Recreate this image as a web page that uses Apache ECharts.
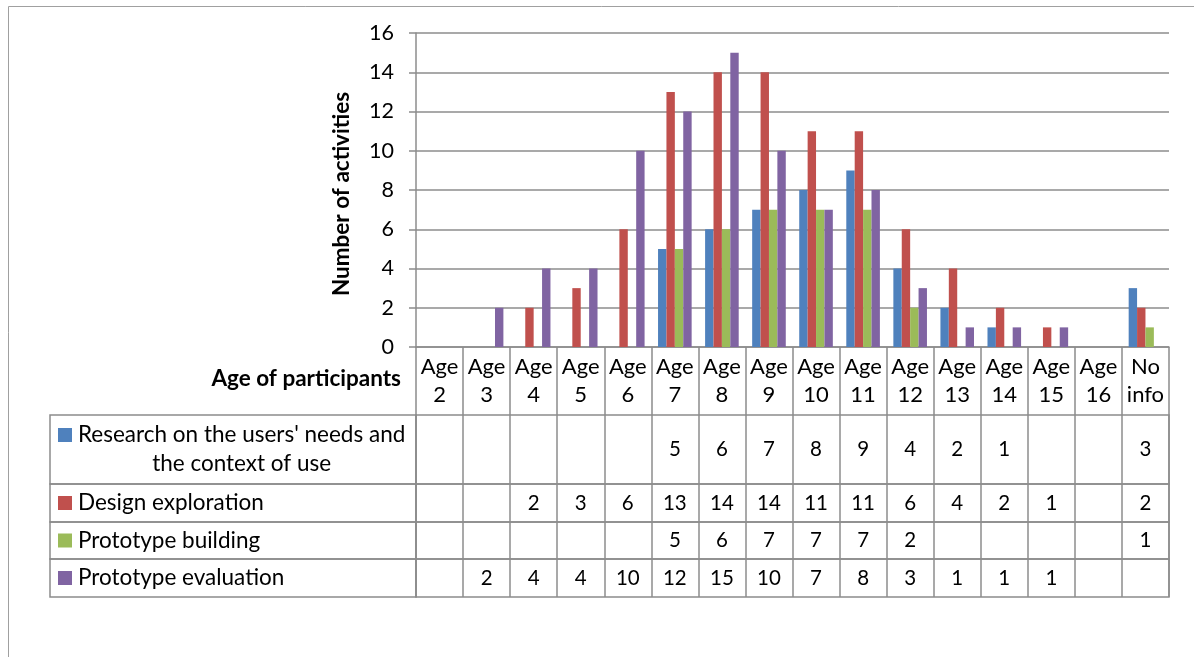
<!DOCTYPE html>
<html>
<head>
<meta charset="utf-8">
<script src="https://cdn.jsdelivr.net/npm/echarts@6/dist/echarts.min.js"></script>
<style>
html,body{margin:0;padding:0;background:#fff;}
#chart{width:1194px;height:657px;}
</style>
</head>
<body>
<div id="chart"></div>
<script>
// ---- data ----
const categories = ['Age 2','Age 3','Age 4','Age 5','Age 6','Age 7','Age 8','Age 9','Age 10','Age 11','Age 12','Age 13','Age 14','Age 15','Age 16','No info'];
const seriesNames = ["Research on the users' needs and the context of use", 'Design exploration', 'Prototype building', 'Prototype evaluation'];
const research   = [null,null,null,null,null,5,6,7,8,9,4,2,1,null,null,3];
const design     = [null,null,2,3,6,13,14,14,11,11,6,4,2,1,null,2];
const building   = [null,null,null,null,null,5,6,7,7,7,2,null,null,null,null,1];
const evaluation = [null,2,4,4,10,12,15,10,7,8,3,1,1,1,null,null];
const yTicks = [0,2,4,6,8,10,12,14,16];

// ---- styling ----
const colors = ['#4F81BD','#C0504D','#9BBB59','#8064A2'];
const FONT = 'Lato';
const LINE = '#8c8c8c';
const LW = 1.5;
const FS_TEXT = 22.5;   // legend / titles
const FS_HEAD = 22;     // header "Age n"
const FS_NUM = 20.5;    // table numbers
const FS_TICK = 21.5;   // y tick labels

const allValues = [research, design, building, evaluation];

// table row layout (pixels)
const rowTops = [415, 484, 522, 559];
const rowHeights = [69, 38, 37, 38];
const tableLeft = 50, dataLeft = 416, dataWidth = 753;

const grids = [{left: dataLeft, top: 33, width: dataWidth, height: 314}];
const xAxes = [{
  type: 'category', gridIndex: 0, data: categories,
  axisLine: {show: true, lineStyle: {color: LINE, width: LW}},
  axisTick: {show: true, interval: 0, length: 68, lineStyle: {color: LINE, width: LW}},
  axisLabel: {interval: 0, color: '#000', fontSize: FS_HEAD, fontFamily: FONT, lineHeight: 28,
    verticalAlign: 'middle', margin: 34,
    formatter: v => v.replace(' ', '\n')}
}];
const yAxes = [{
  type: 'value', gridIndex: 0, min: yTicks[0], max: yTicks[yTicks.length-1], interval: yTicks[1]-yTicks[0],
  axisLine: {show: true, lineStyle: {color: LINE, width: LW}},
  axisTick: {show: true, length: 7, lineStyle: {color: LINE, width: LW}},
  axisLabel: {color: '#000', fontSize: FS_TICK, fontFamily: FONT, margin: 22},
  splitLine: {show: true, lineStyle: {color: LINE, width: LW}},
  name: 'Number of activities', nameLocation: 'middle', nameGap: 63, nameRotate: 90,
  nameTextStyle: {color: '#000', fontSize: FS_TEXT, fontWeight: 'bold', fontFamily: FONT, padding: [0, 8, 0, 0]}
}];

const rich = {
  t: {fontSize: FS_TEXT, fontFamily: FONT, color: '#000', lineHeight: 29},
  c: {fontSize: FS_TEXT, fontFamily: FONT, color: '#000', lineHeight: 29, align: 'center'},
  sp: {width: 20, lineHeight: 29},
  g: {width: 6}
};
colors.forEach((c, i) => { rich['sq' + i] = {width: 14, height: 14, backgroundColor: c}; });

seriesNames.forEach((name, i) => {
  // data cells grid
  const gd = grids.length;
  grids.push({left: dataLeft, top: rowTops[i], width: dataWidth, height: rowHeights[i], show: true, borderColor: LINE, borderWidth: LW});
  const vals = allValues[i];
  xAxes.push({
    type: 'category', gridIndex: gd, data: categories,
    axisLine: {show: false}, axisTick: {show: false},
    splitLine: {show: true, interval: 0, lineStyle: {color: LINE, width: LW}},
    axisLabel: {inside: true, interval: 0, verticalAlign: 'middle', margin: rowHeights[i] / 2,
      color: '#000', fontSize: FS_NUM, fontFamily: FONT,
      formatter: (v, idx) => (vals[idx] == null ? '' : String(vals[idx]))}
  });
  yAxes.push({type: 'value', gridIndex: gd, show: false});
  // legend (row header) grid
  const gl = grids.length;
  grids.push({left: tableLeft, top: rowTops[i], width: dataLeft - tableLeft, height: rowHeights[i], show: true, borderColor: LINE, borderWidth: LW});
  xAxes.push({type: 'value', gridIndex: gl, show: false});
  let label;
  if (i === 0) {
    label = '{sq0|}{g|}{t|Research on the users\' needs and}\n{sp|}{c|the context of use}';
  } else {
    label = '{sq' + i + '|}{g|}{t|' + name + '}';
  }
  yAxes.push({
    type: 'category', gridIndex: gl, data: [name],
    axisLine: {show: false}, axisTick: {show: false}, splitLine: {show: false},
    axisLabel: {inside: true, margin: 8, formatter: () => label, rich: rich}
  });
});

const series = seriesNames.map((name, i) => ({
  name: name, type: 'bar', xAxisIndex: 0, yAxisIndex: 0,
  data: allValues[i], itemStyle: {color: colors[i]},
  barGap: '0%', barCategoryGap: '28.6%'
}));

const chart = echarts.init(document.getElementById('chart'), null, {renderer: 'canvas'});
chart.setOption({
  animation: false,
  textStyle: {fontFamily: FONT},
  title: {text: 'Age of participants', right: 1194 - 401, top: 367, padding: 0,
    textStyle: {color: '#000', fontSize: FS_TEXT, fontWeight: 'bold', fontFamily: FONT}},
  graphic: [{type: 'rect', silent: true, z: -1,
    shape: {x: 8.5, y: 6.5, width: 1400, height: 800},
    style: {fill: 'none', stroke: '#a0a0a0', lineWidth: 1}}],
  grid: grids,
  xAxis: xAxes,
  yAxis: yAxes,
  series: series
});
</script>
</body>
</html>
